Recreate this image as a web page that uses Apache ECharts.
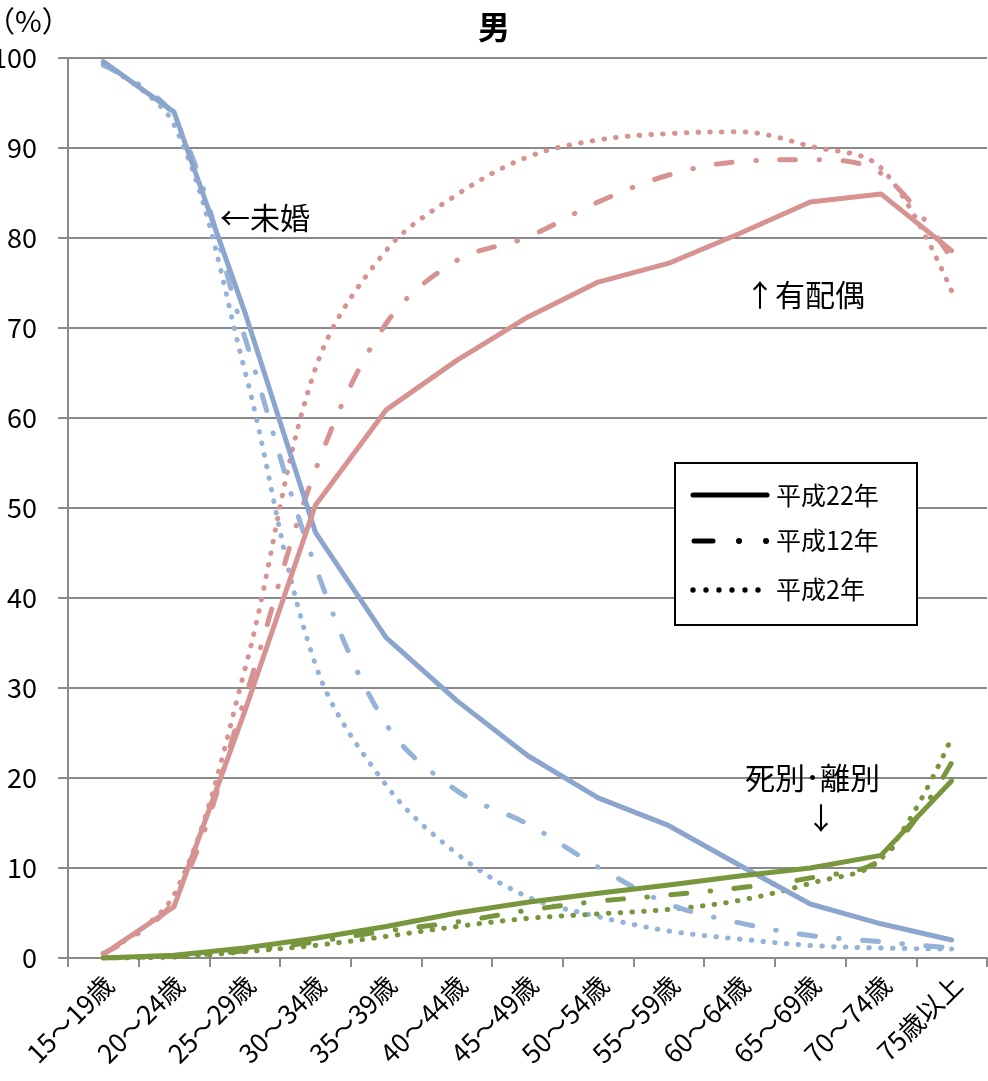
<!DOCTYPE html>
<html>
<head>
<meta charset="utf-8">
<script src="https://cdn.jsdelivr.net/npm/echarts@6/dist/echarts.min.js"></script>
<style>
  html, body { margin: 0; padding: 0; background: #fff; }
  #chart { width: 988px; height: 1081px; }
</style>
</head>
<body>
<div id="chart"></div>
<script>
// 配偶関係別人口割合（男）
const categories = ['15～19歳', '20～24歳', '25～29歳', '30～34歳', '35～39歳', '40～44歳', '45～49歳',
  '50～54歳', '55～59歳', '60～64歳', '65～69歳', '70～74歳', '75歳以上'];

// 未婚
const unmarriedH22 = [99.6, 94.0, 71.8, 47.3, 35.6, 28.6, 22.5, 17.8, 14.7, 10.3, 6.0, 3.8, 2.0];
const unmarriedH12 = [99.2, 93.5, 69.0, 43.5, 26.0, 18.6, 14.9, 10.1, 6.0, 3.9, 2.5, 1.8, 1.1];
const unmarriedH2  = [99.3, 92.6, 65.3, 32.6, 19.2, 11.6, 6.8, 4.6, 3.0, 2.1, 1.4, 1.1, 1.0];

// 有配偶
const marriedH22 = [0.4, 5.7, 27.4, 50.3, 60.9, 66.4, 71.2, 75.1, 77.2, 80.5, 84.0, 84.9, 78.6];
const marriedH12 = [0.5, 6.4, 28.8, 54.2, 70.5, 77.5, 80.1, 84.0, 87.0, 88.5, 88.7, 87.2, 77.7];
const marriedH2  = [0.5, 7.0, 32.0, 65.5, 78.6, 84.8, 89.0, 90.9, 91.6, 91.8, 90.2, 87.8, 74.1];

// 死別・離別
const widowedH22 = [0.0, 0.3, 1.1, 2.2, 3.5, 5.0, 6.2, 7.2, 8.1, 9.1, 10.0, 11.4, 19.7];
const widowedH12 = [0.0, 0.2, 0.8, 1.8, 3.0, 4.0, 5.3, 6.3, 7.0, 7.8, 8.9, 11.0, 21.7];
const widowedH2  = [0.0, 0.1, 0.7, 1.4, 2.4, 3.5, 4.4, 4.9, 5.4, 6.4, 8.3, 11.0, 24.5];

const yearLabels = ['平成22年', '平成12年', '平成2年'];

const FONT = '"Noto Sans CJK JP", "Noto Sans", sans-serif';
const GRID_COLOR = '#8a8a8a';

const COLORS = {
  blueSolid: '#8ca5cf',
  blueLight: '#95b3d9',
  red: '#d69391',
  green: '#78963c'
};

const DASH_DOT = [16, 23.5, 0.5, 23.5];
const DOTS = [0.5, 11.3];

function lineSeries(name, data, color, kind) {
  const style = { color: color, width: 5, cap: 'round', join: 'round' };
  if (kind === 'dashdot') style.type = DASH_DOT;
  if (kind === 'dot') style.type = DOTS;
  return {
    name: name,
    type: 'line',
    data: data,
    symbol: 'none',
    smooth: kind === 'solid' ? false : 0.35,
    lineStyle: style,
    itemStyle: { color: color },
    z: kind === 'solid' ? 5 : (kind === 'dashdot' ? 4 : 3)
  };
}

const series = [
  lineSeries('未婚 ' + yearLabels[2], unmarriedH2, COLORS.blueLight, 'dot'),
  lineSeries('有配偶 ' + yearLabels[2], marriedH2, COLORS.red, 'dot'),
  lineSeries('死別・離別 ' + yearLabels[2], widowedH2, COLORS.green, 'dot'),
  lineSeries('未婚 ' + yearLabels[1], unmarriedH12, COLORS.blueLight, 'dashdot'),
  lineSeries('有配偶 ' + yearLabels[1], marriedH12, COLORS.red, 'dashdot'),
  lineSeries('死別・離別 ' + yearLabels[1], widowedH12, COLORS.green, 'dashdot'),
  lineSeries('未婚 ' + yearLabels[0], unmarriedH22, COLORS.blueSolid, 'solid'),
  lineSeries('有配偶 ' + yearLabels[0], marriedH22, COLORS.red, 'solid'),
  lineSeries('死別・離別 ' + yearLabels[0], widowedH22, COLORS.green, 'solid')
];

// 凡例（黒の線種見本）
const legendX = 675, legendY = 463;
const legendGraphics = [
  { type: 'rect', shape: { x: legendX, y: legendY, width: 242, height: 162 },
    style: { fill: '#fff', stroke: '#000', lineWidth: 2 }, z: 100 },
  // 実線
  { type: 'line', shape: { x1: 693, y1: 495, x2: 767, y2: 495 },
    style: { stroke: '#000', lineWidth: 5, lineCap: 'round' }, z: 101 },
  // 一点鎖線
  { type: 'line', shape: { x1: 694, y1: 541, x2: 713, y2: 541 },
    style: { stroke: '#000', lineWidth: 5, lineCap: 'round' }, z: 101 },
  { type: 'circle', shape: { cx: 739, cy: 541, r: 3 }, style: { fill: '#000' }, z: 101 },
  { type: 'circle', shape: { cx: 766, cy: 541, r: 3 }, style: { fill: '#000' }, z: 101 }
];
[693, 706, 719, 732, 745, 758].forEach(function (cx) {
  legendGraphics.push({ type: 'circle', shape: { cx: cx, cy: 590, r: 2.7 }, style: { fill: '#000' }, z: 101 });
});
[[495, yearLabels[0]], [540, yearLabels[1]], [589, yearLabels[2]]].forEach(function (row) {
  legendGraphics.push({
    type: 'text', x: 776, y: row[0], z: 101,
    style: { text: row[1], font: '25px ' + FONT, fill: '#000', verticalAlign: 'middle', align: 'left' }
  });
});

function note(x, y, text, size) {
  return {
    type: 'text', x: x, y: y, z: 90,
    style: { text: text, font: (size || 30) + 'px ' + FONT, fill: '#000', verticalAlign: 'middle', align: 'left' }
  };
}

const chart = echarts.init(document.getElementById('chart'), null, { renderer: 'canvas' });

chart.setOption({
  animation: false,
  backgroundColor: '#fff',
  title: {
    text: '男',
    left: 'center',
    top: 6,
    textStyle: { fontFamily: FONT, fontSize: 32, fontWeight: 'bold', color: '#000' }
  },
  grid: { left: 68, right: 1, top: 58, bottom: 123, containLabel: false, outerBoundsMode: 'none' },
  xAxis: {
    type: 'category',
    data: categories,
    boundaryGap: true,
    axisLine: { lineStyle: { color: GRID_COLOR, width: 2 } },
    axisTick: { show: true, length: 9, interval: 0, lineStyle: { color: GRID_COLOR, width: 2 } },
    axisLabel: {
      interval: 0, rotate: 45, margin: 28, fontSize: 26, color: '#000', fontFamily: FONT,
      padding: [0, -8, 0, 0]
    },
    splitLine: { show: false }
  },
  yAxis: {
    type: 'value',
    min: 0,
    max: 100,
    interval: 10,
    axisLine: { show: true, lineStyle: { color: GRID_COLOR, width: 2 } },
    axisTick: { show: true, length: 10, lineStyle: { color: GRID_COLOR, width: 2 } },
    axisLabel: { margin: 31, fontSize: 27, color: '#000', fontFamily: FONT },
    splitLine: { show: true, lineStyle: { color: GRID_COLOR, width: 2 } }
  },
  series: series,
  graphic: [
    { type: 'text', x: -14, y: 21, z: 90,
      style: { text: '（%）', font: '29px ' + FONT, fill: '#000', verticalAlign: 'middle' } },
    note(220, 218, '←未婚'),
    note(745, 295, '↑有配偶'),
    note(745, 778, '死別･離別'),
    note(806, 818, '↓')
  ].concat(legendGraphics)
});
</script>
</body>
</html>
